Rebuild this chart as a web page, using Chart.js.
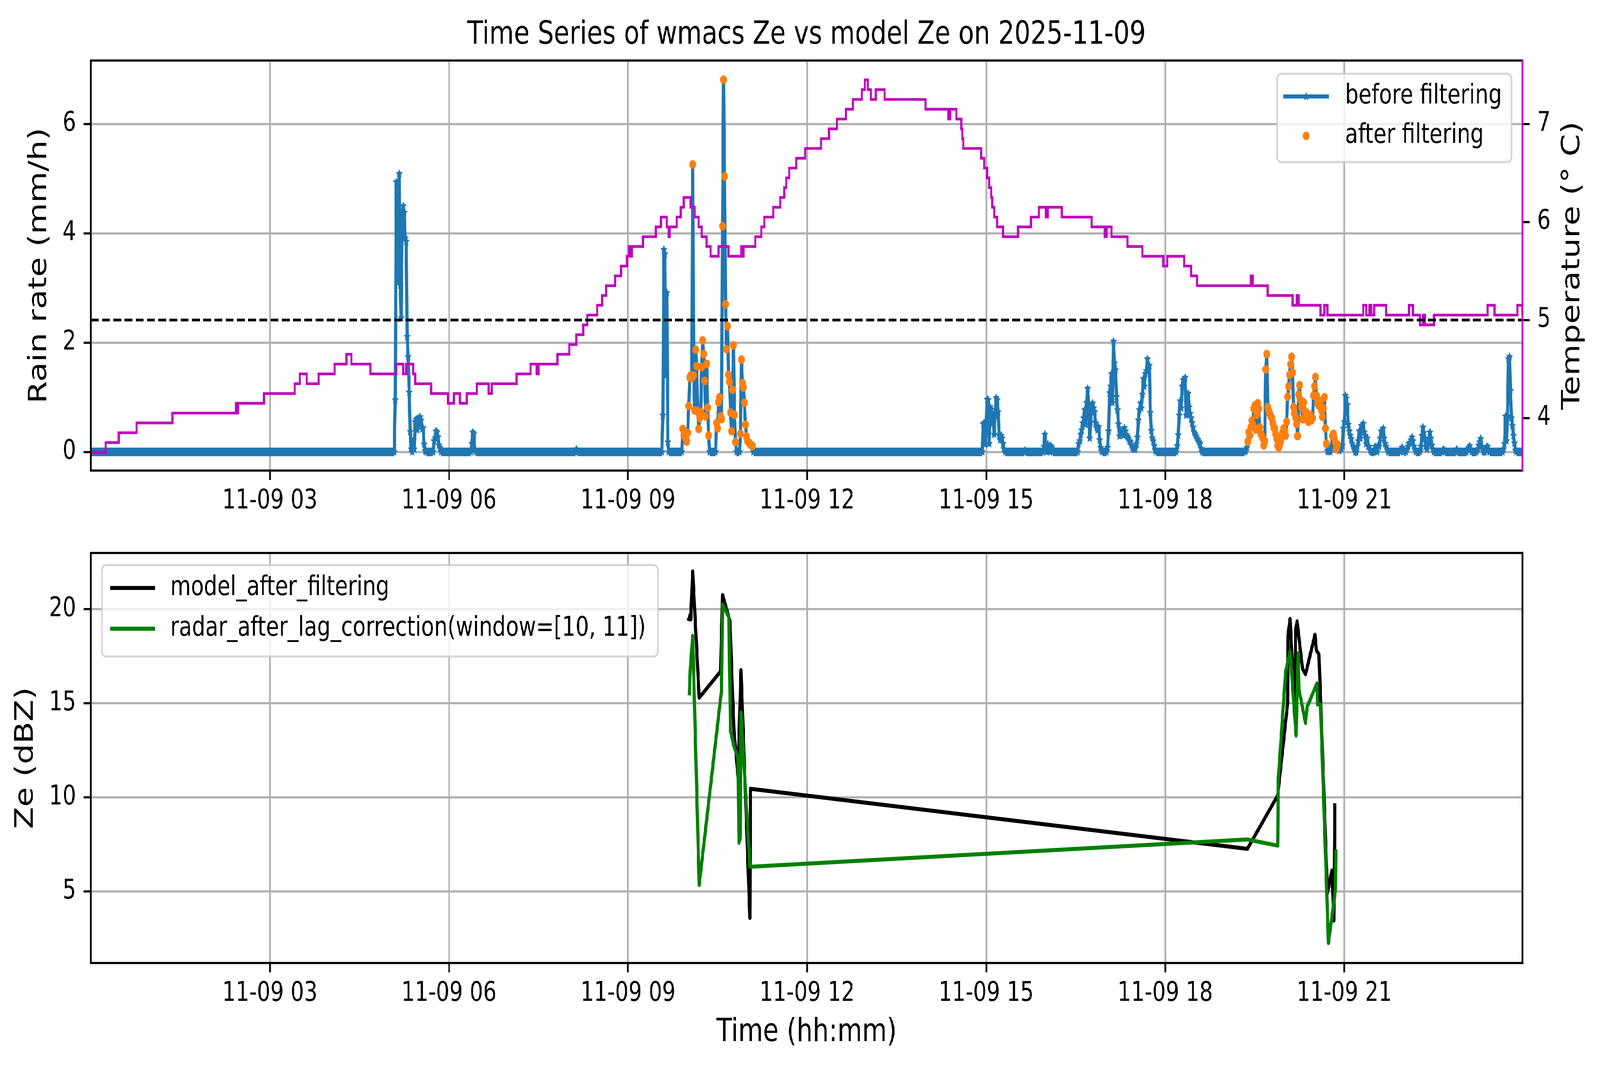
<!DOCTYPE html>
<html lang="en">
<head>
<meta charset="UTF-8">
<title>Time Series of wmacs Ze vs model Ze</title>
<script src="https://cdn.jsdelivr.net/npm/chart.js@4.4.1/dist/chart.umd.min.js"></script>
<style>
  html, body { margin: 0; padding: 0; background: #fff; overflow: hidden; }
  #viewport { position: relative; overflow: hidden; }
  #page { position: absolute; left: 0; top: 0; width: 5197px; height: 2740px; transform-origin: 0 0; }
  canvas { position: absolute; left: 0; }
  #rain { top: 0; width: 5197px; height: 1330px; }
  #ze { top: 1330px; width: 5197px; height: 1410px; }
</style>
</head>
<body>
<div id="viewport">
  <div id="page">
    <canvas id="rain" width="5197" height="1330"></canvas>
    <canvas id="ze" width="5197" height="1410"></canvas>
  </div>
</div>
<script>
// all times are minutes after 00:00 on 2025-11-09
const dayStart = 0;
const dayEnd = 1439;
const hourTicks = [180, 360, 540, 720, 900, 1080, 1260];
const rainTicks = [0, 2, 4, 6];
const tempTicks = [4, 5, 6, 7];
const zeTicks = [5, 10, 15, 20];

// rain rate (mm/h), one value per minute inside each run, starting at rainRunStart
const rainRunStart = [0, 305, 344, 382, 487, 574, 594, 628, 652, 896, 938, 957, 992, 1021, 1091, 1160,
  1316, 1322, 1336, 1358, 1372, 1383, 1393, 1419, 1439];
const rainRuns = [
  [0],
  [0, 0.95, 4.94, 4.60, 3.10, 5.09, 3.05, 2.45, 4.30, 4.50, 4.38, 3.91, 3.85, 2.11, 1.74, 1.09, 0.37, 0.05, 0,
   0.21, 0.05, 0.55, 0.60, 0.40, 0.62, 0.50, 0.64, 0.58, 0.42, 0.44, 0.14, 0.02, 0],
  [0, 0.20, 0.25, 0.38, 0.36, 0.27, 0.12, 0.08, 0],
  [0, 0.15, 0.36, 0.33, 0.04, 0],
  [0, 0.05, 0],
  [0, 0.67, 3.70, 3.62, 1.40, 2.91, 0.18, 0],
  [0, 0.42, 0.30, 0.32, 0.25, 0.19, 0.35, 0.84, 1.36, 1.40, 1.35, 5.26, 1.40, 0.76, 1.87, 1.57, 0.75, 0.42,
   0.62, 0.73, 1.55, 2.04, 1.79, 1.30, 0.65, 1.61, 0.81, 0.30, 0],
  [0, 0.53, 0.43, 0.91, 1.00, 0.65, 0.60, 4.13, 6.81, 5.04, 2.70, 1.88, 2.30, 1.41, 1.28, 0.72, 0.38, 1.14,
   1.95, 0.68, 0.18, 0],
  [0, 0.33, 1.69, 1.26, 1.18, 0.90, 0.50, 0.28, 0.20, 0.18, 0.16, 0.14, 0.12, 0.11, 0],
  [0, 0.51, 0.53, 0.14, 0.50, 0.96, 0.95, 0.15, 0.82, 0.78, 0.52, 0.68, 0.32, 0.67, 0.99, 0.95, 0.73, 0.30,
   0.22, 0.30, 0.25, 0.15, 0.05, 0],
  [0, 0.03, 0],
  [0, 0.10, 0.32, 0.05, 0, 0.14, 0.02, 0, 0.11, 0.08, 0],
  [0, 0.15, 0.20, 0.32, 0.40, 0.53, 0.62, 0.77, 0.50, 0.90, 1.16, 0.86, 0.25, 0.55, 0.86, 0.89, 0.80, 0.73,
   0.53, 0.44, 0.40, 0.46, 0.22, 0.08, 0.02, 0],
  [0, 0.08, 0.38, 1.08, 1.20, 1.43, 0.90, 2.02, 1.62, 1.50, 1.01, 0.77, 0.51, 0.29, 0.39, 0.35, 0.40, 0.30,
   0.44, 0.38, 0.31, 0.28, 0.25, 0.20, 0.18, 0.12, 0.08, 0.06, 0.04, 0.06, 0.15, 0.27, 0.58, 0.77, 0.89, 0.80,
   1.05, 1.34, 1.20, 1.43, 1.48, 1.70, 1.50, 1.58, 0.72, 0.39, 0.25, 0.20, 0.11, 0.03, 0],
  [0, 0.11, 0.31, 0.67, 0.93, 0.80, 1.20, 1.32, 1.30, 1.36, 0.67, 0.90, 1.07, 0.82, 0.70, 0.62, 0.53, 0.45,
   0.36, 0.33, 0.29, 0.25, 0.22, 0.18, 0.15, 0.06, 0],
  [0, 0.02, 0.08, 0.19, 0.36, 0.30, 0.45, 0.57, 0.50, 0.79, 0.85, 0.41, 0.68, 0.89, 0.79, 0.45, 0.33, 0.30,
   0.25, 0.12, 0.20, 1.51, 1.79, 0.82, 0.75, 0.70, 0.65, 0.63, 0.53, 0.45, 0.43, 0.33, 0.24, 0.11, 0.08, 0.13,
   0.20, 0.29, 0.36, 0.43, 0.38, 0.30, 0.55, 1.01, 1.20, 1.41, 1.60, 1.74, 1.45, 0.82, 0.70, 0.63, 0.51, 0.29,
   1.05, 1.22, 0.95, 0.82, 0.60, 0.91, 0.75, 0.60, 0.72, 0.65, 0.55, 0.60, 0.67, 0.58, 0.62, 1.03, 1.20, 1.37,
   1.03, 0.89, 0.85, 0.93, 0.93, 0.76, 0.64, 0.80, 1.00, 0.43, 0.15, 0.02, 0, 0.05, 0, 0.10, 0.29, 0.33, 0.25,
   0.18, 0.05, 0.13, 0.05, 0.02, 0.10, 0.05, 0.12, 0.43, 0.55, 1.03, 0.98, 0.86, 0.50, 0.38, 0.30, 0.24, 0.15,
   0.10, 0.05, 0, 0, 0.10, 0.20, 0.38, 0.25, 0.48, 0.40, 0.52, 0.36, 0.30, 0.15, 0.25, 0.10, 0.10, 0.03, 0, 0,
   0, 0, 0.10, 0.05, 0, 0.12, 0.10, 0.25, 0.38, 0.30, 0.43, 0.25, 0.15, 0.10, 0.05, 0],
  [0, 0.05, 0.08, 0.05, 0],
  [0, 0.05, 0.10, 0.15, 0.17, 0.22, 0.27, 0.20, 0.10, 0.05, 0],
  [0, 0.10, 0.30, 0.45, 0.35, 0.24, 0.10, 0.05, 0.15, 0.25, 0.36, 0.25, 0.12, 0.05, 0],
  [0, 0.03, 0.05, 0],
  [0, 0.05, 0],
  [0, 0.05, 0.08, 0.11, 0.05, 0],
  [0, 0.05, 0.12, 0.18, 0.24, 0.10, 0.05, 0, 0, 0.05, 0.08, 0.10, 0.03, 0],
  [0, 0.05, 0.15, 0.65, 0.20, 0.65, 1.70, 1.74, 1.12, 0.62, 0.48, 0.30, 0.16, 0.03, 0],
  [0]
];
// minutes kept by the filter
const afterWindows = [[595, 665], [1163, 1242], [1248, 1253]];

// temperature (deg C): time of each change and the new value
const tempTimes = [0, 15, 28, 46, 82, 146, 147, 148, 174, 205,
  210, 217, 229, 245, 257, 262, 281, 307, 314, 317,
  324, 326, 342, 359, 365, 371, 378, 388, 400, 403,
  428, 442, 448, 450, 469, 481, 488, 495, 499, 509,
  514, 518, 527, 533, 539, 541, 543, 544, 555, 568,
  573, 579, 581, 582, 589, 593, 596, 603, 607, 611,
  614, 619, 623, 631, 641, 654, 655, 656, 668, 674,
  677, 686, 693, 697, 699, 702, 709, 718, 734, 742,
  750, 759, 766, 775, 778, 781, 784, 789, 798, 839,
  862, 864, 870, 875, 876, 877, 895, 898, 901, 903,
  905, 906, 908, 911, 917, 932, 945, 953, 960, 962,
  976, 1006, 1019, 1021, 1026, 1042, 1057, 1078, 1082, 1099,
  1106, 1112, 1166, 1168, 1183, 1208, 1212, 1214, 1236, 1240,
  1243, 1279, 1282, 1285, 1287, 1290, 1302, 1325, 1329, 1336,
  1339, 1341, 1350, 1404, 1411, 1434, 1439];
const tempValues = [3.65, 3.75, 3.85, 3.95, 4.05, 4.15, 4.05, 4.15, 4.25, 4.35,
  4.45, 4.35, 4.45, 4.55, 4.65, 4.55, 4.45, 4.55, 4.45, 4.55,
  4.45, 4.35, 4.25, 4.15, 4.25, 4.15, 4.25, 4.35, 4.25, 4.35,
  4.45, 4.55, 4.45, 4.55, 4.65, 4.75, 4.85, 4.95, 5.05, 5.15,
  5.25, 5.35, 5.45, 5.55, 5.65, 5.75, 5.65, 5.75, 5.85, 5.95,
  6.05, 5.95, 5.85, 5.95, 6.05, 6.15, 6.25, 6.15, 6.05, 5.95,
  5.85, 5.75, 5.65, 5.75, 5.65, 5.75, 5.65, 5.75, 5.85, 5.95,
  6.05, 6.15, 6.25, 6.35, 6.45, 6.55, 6.65, 6.75, 6.85, 6.95,
  7.05, 7.15, 7.25, 7.35, 7.45, 7.35, 7.25, 7.35, 7.25, 7.15,
  7.05, 7.15, 7.05, 6.95, 6.85, 6.75, 6.65, 6.55, 6.45, 6.35,
  6.25, 6.15, 6.05, 5.95, 5.85, 5.95, 6.05, 6.15, 6.05, 6.15,
  6.05, 5.95, 5.85, 5.95, 5.85, 5.75, 5.65, 5.55, 5.65, 5.55,
  5.45, 5.35, 5.45, 5.35, 5.25, 5.15, 5.25, 5.15, 5.05, 5.15,
  5.05, 5.15, 5.05, 5.15, 5.05, 5.15, 5.05, 5.15, 5.05, 4.95,
  5.05, 4.95, 5.05, 5.15, 5.05, 5.15, 5.05];
const tempThreshold = 5;

// reflectivity (dBZ)
const modelTimes = [600.5, 602.5, 603, 605, 611.5, 633, 635, 642.5, 645, 646.5,
  650.5, 653.5, 662.5, 663, 1162.5, 1193, 1203, 1203.3, 1205.5, 1210.5,
  1211, 1212.5, 1218, 1221, 1230.5, 1232, 1234.5, 1243, 1247.5, 1249.5, 1250.5];
const modelZe = [19.37, 19.70, 19.45, 22.0, 15.29, 16.69, 20.75, 19.35, 15.49, 13.54,
  11.16, 16.76, 3.60, 10.46, 7.27, 10.10, 15.0, 18.58, 19.48, 14.24,
  18.86, 19.35, 16.83, 16.54, 18.64, 17.80, 17.60, 4.93, 6.12, 3.46, 9.69];
const radarTimes = [601.5, 602.5, 605, 611.5, 634, 635, 641.5, 642, 643, 646.5,
  650.5, 651.5, 653, 653.5, 662.5, 1162.5, 1193, 1193.5, 1201, 1205.5,
  1211.5, 1213.5, 1214.5, 1221, 1222.5, 1232.5, 1233, 1236, 1244, 1251, 1251.5];
const radarZe = [15.42, 16.76, 18.58, 5.35, 15.71, 20.25, 19.55, 16.9, 13.54, 12.70,
  12.13, 7.59, 7.9, 14.51, 6.32, 7.77, 7.44, 10.88, 16.69, 17.74,
  13.28, 17.66, 15.71, 13.95, 14.79, 16.06, 14.94, 14.94, 2.27, 5.07, 7.24];

// ---- the drawing is laid out on a 5197x2740 sheet, stretched to fill the window
const DESIGN_W = 5197, DESIGN_H = 2740;
const vw = window.innerWidth || DESIGN_W, vh = window.innerHeight || DESIGN_H;
const sx = vw / DESIGN_W, sy = vh / DESIGN_H;
const viewport = document.getElementById('viewport');
viewport.style.width = vw + 'px';
viewport.style.height = vh + 'px';
document.getElementById('page').style.transform = 'scale(' + sx + ',' + sy + ')';
const RATIO = Math.max(1, Math.max(sx, sy) * (window.devicePixelRatio || 1));

// ---- build the point lists
const rainPoints = [];
rainRunStart.forEach((start, r) => {
  rainRuns[r].forEach((v, i) => rainPoints.push({ x: start + i, y: v }));
});
const afterPoints = rainPoints.filter(p =>
  p.y > 0 && afterWindows.some(w => p.x >= w[0] && p.x <= w[1]));
const tempPoints = tempTimes.map((t, i) => ({ x: t, y: tempValues[i] }));
const thresholdPoints = [{ x: dayStart, y: tempThreshold }, { x: dayEnd, y: tempThreshold }];
const modelPoints = modelTimes.map((t, i) => ({ x: t, y: modelZe[i] }));
const radarPoints = radarTimes.map((t, i) => ({ x: t, y: radarZe[i] }));

// ---- look
const FAMILY = 'DejaVu Sans';
const tickFont = { family: FAMILY, size: 68.75 };
const labelFont = { family: FAMILY, size: 82.5 };
const LW_AXIS = 5.5;
const gridOpts = { color: '#b0b0b0', lineWidth: LW_AXIS, drawTicks: true, tickLength: 24,
  tickColor: '#000', tickWidth: LW_AXIS };

// filled five point star like matplotlib's '*'
function starMarker(r, color) {
  const c = document.createElement('canvas');
  const s = Math.ceil(r * 2 + 2);
  c.width = s; c.height = s;
  const g = c.getContext('2d');
  g.fillStyle = color;
  g.beginPath();
  for (let i = 0; i < 10; i++) {
    const rad = i % 2 ? r * 0.5 : r;
    const a = -Math.PI / 2 + i * Math.PI / 5;
    g.lineTo(s / 2 + rad * Math.cos(a), s / 2 + rad * Math.sin(a));
  }
  g.closePath();
  g.fill();
  return c;
}
const blueStar = starMarker(12, '#1f77b4');

// axes box drawn over the data, like the spines
const frame = {
  id: 'frame',
  afterDatasetsDraw(chart, args, opts) {
    const { ctx, chartArea: a } = chart;
    ctx.save();
    ctx.lineWidth = LW_AXIS;
    ctx.lineCap = 'square';
    ctx.strokeStyle = '#000';
    ctx.beginPath();
    ctx.moveTo(a.left, a.bottom); ctx.lineTo(a.left, a.top); ctx.lineTo(a.right, a.top);
    ctx.moveTo(a.left, a.bottom); ctx.lineTo(a.right, a.bottom);
    ctx.stroke();
    ctx.strokeStyle = opts.right || '#000';
    ctx.beginPath();
    ctx.moveTo(a.right, a.top); ctx.lineTo(a.right, a.bottom);
    ctx.stroke();
    ctx.restore();
  }
};

// figure title and the right hand axis label (reads bottom to top)
const textLabels = {
  id: 'textLabels',
  afterDraw(chart, args, opts) {
    const { ctx, chartArea: a } = chart;
    ctx.save();
    ctx.fillStyle = '#000';
    ctx.font = labelFont.size + 'px "' + FAMILY + '"';
    ctx.textAlign = 'center';
    ctx.textBaseline = 'alphabetic';
    if (opts.title) ctx.fillText(opts.title, (a.left + a.right) / 2, opts.titleBaseline);
    if (opts.rightTitle) {
      ctx.translate(opts.rightBaseline, (a.top + a.bottom) / 2);
      ctx.rotate(-Math.PI / 2);
      ctx.fillText(opts.rightTitle, 0, 0);
    }
    ctx.restore();
  }
};

// matplotlib style legend box
const boxLegend = {
  id: 'boxLegend',
  afterDraw(chart, args, opts) {
    const ctx = chart.ctx;
    const b = opts.box;
    ctx.save();
    ctx.beginPath();
    ctx.roundRect(b[0], b[1], b[2] - b[0], b[3] - b[1], 14);
    ctx.fillStyle = 'rgba(255,255,255,0.8)';
    ctx.fill();
    ctx.lineWidth = LW_AXIS;
    ctx.strokeStyle = 'rgba(204,204,204,0.8)';
    ctx.stroke();
    const h0 = opts.handle[0], h1 = opts.handle[1], hm = (h0 + h1) / 2;
    ctx.font = tickFont.size + 'px "' + FAMILY + '"';
    ctx.textAlign = 'left';
    ctx.textBaseline = 'middle';
    opts.rows.forEach(row => {
      const ds = chart.data.datasets[row.index];
      if (ds.showLine !== false) {
        ctx.strokeStyle = ds.borderColor;
        ctx.lineWidth = ds.borderWidth;
        ctx.beginPath();
        ctx.moveTo(h0, row.y); ctx.lineTo(h1, row.y);
        ctx.stroke();
      }
      if (ds.pointStyle instanceof HTMLCanvasElement) {
        const img = ds.pointStyle;
        ctx.drawImage(img, hm - img.width / 2, row.y - img.height / 2);
      } else if (ds.pointRadius > 0) {
        ctx.fillStyle = ds.pointBackgroundColor;
        ctx.beginPath();
        ctx.arc(hm, row.y, ds.pointRadius, 0, Math.PI * 2);
        ctx.fill();
      }
      ctx.fillStyle = '#000';
      ctx.fillText(ds.label, opts.textX, row.y);
    });
    ctx.restore();
  }
};

function timeAxis(h, title) {
  return {
    type: 'linear', position: 'bottom', min: dayStart, max: dayEnd,
    afterBuildTicks: ax => { ax.ticks = hourTicks.map(v => ({ value: v })); },
    afterFit: ax => { ax.height = h; },
    ticks: { color: '#000', font: tickFont, padding: 14, maxRotation: 0, autoSkip: false,
      callback: v => '11-09 ' + String(Math.round(v / 60)).padStart(2, '0') },
    grid: gridOpts,
    border: { display: false },
    title: title
      ? { display: true, text: title, color: '#000', font: labelFont, padding: { top: 0, bottom: 45.5 } }
      : { display: false }
  };
}

function valueAxis(pos, min, max, list, w, extra) {
  return Object.assign({
    type: 'linear', position: pos, min: min, max: max,
    afterBuildTicks: ax => { ax.ticks = list.map(v => ({ value: v })); },
    afterFit: ax => { ax.width = w; },
    ticks: { color: '#000', font: tickFont, padding: 24, callback: v => String(v) },
    grid: gridOpts,
    border: { display: false }
  }, extra);
}

Chart.defaults.font.family = FAMILY;

new Chart(document.getElementById('rain'), {
  type: 'line',
  data: {
    datasets: [
      { label: 'before filtering', data: rainPoints, yAxisID: 'y',
        borderColor: '#1f77b4', borderWidth: 10.3, borderJoinStyle: 'round',
        pointStyle: blueStar, pointRadius: 12, pointHoverRadius: 12,
        segment: { borderWidth: c => (c.p0.parsed.y === 0 && c.p1.parsed.y === 0) ? 22 : undefined },
        order: 3, clip: 0 },
      { label: 'after filtering', data: afterPoints, yAxisID: 'y', showLine: false,
        pointStyle: 'circle', pointRadius: 11, pointHoverRadius: 11,
        pointBackgroundColor: '#ff7f0e', pointBorderWidth: 0, order: 2, clip: 0 },
      { label: 'temperature', data: tempPoints, yAxisID: 'yT', stepped: true,
        borderColor: '#bf00bf', borderWidth: 6.9, pointRadius: 0, order: 1, clip: 0 },
      { label: 'threshold', data: thresholdPoints, yAxisID: 'yT',
        borderColor: '#000', borderWidth: 6.9, borderDash: [25.5, 11], pointRadius: 0, order: 0, clip: 0 }
    ]
  },
  options: {
    responsive: false, devicePixelRatio: RATIO, animation: false, events: [],
    layout: { padding: { top: 155, left: 0, right: 0, bottom: 0 } },
    scales: {
      x: timeAxis(125, null),
      y: valueAxis('left', -0.341, 7.161, rainTicks, 295, {
        title: { display: true, text: 'Rain rate (mm/h)', color: '#000', font: labelFont,
          padding: { top: 79.5, bottom: 0 } }
      }),
      yT: valueAxis('right', 3.464, 7.647, tempTicks, 252, {
        grid: Object.assign({}, gridOpts, { drawOnChartArea: false })
      })
    },
    plugins: {
      legend: { display: false },
      tooltip: { enabled: false },
      frame: { right: '#bf00bf' },
      textLabels: { title: 'Time Series of wmacs Ze vs model Ze on 2025-11-09', titleBaseline: 112,
        rightTitle: 'Temperature (° C)', rightBaseline: 5130 },
      boxLegend: { box: [4148, 189, 4910, 415], handle: [4168, 4317], textX: 4369,
        rows: [{ index: 0, y: 247 }, { index: 1, y: 348 }] }
    }
  },
  plugins: [frame, textLabels, boxLegend]
});

new Chart(document.getElementById('ze'), {
  type: 'line',
  data: {
    datasets: [
      { label: 'model_after_filtering', data: modelPoints, borderColor: '#000', borderWidth: 10.3,
        borderJoinStyle: 'round', pointRadius: 0, order: 1, clip: 0 },
      { label: 'radar_after_lag_correction(window=[10, 11])', data: radarPoints, borderColor: '#008000',
        borderWidth: 10.3, borderJoinStyle: 'round', pointRadius: 0, order: 0, clip: 0 }
    ]
  },
  options: {
    responsive: false, devicePixelRatio: RATIO, animation: false, events: [],
    layout: { padding: { top: 86, left: 0, right: 252, bottom: 0 } },
    scales: {
      x: timeAxis(274, 'Time (hh:mm)'),
      y: valueAxis('left', 1.21, 22.98, zeTicks, 295, {
        title: { display: true, text: 'Ze (dBZ)', color: '#000', font: labelFont,
          padding: { top: 35, bottom: 0 } }
      })
    },
    plugins: {
      legend: { display: false },
      tooltip: { enabled: false },
      frame: { right: '#000' },
      boxLegend: { box: [331, 117, 2137, 351], handle: [358, 504], textX: 553,
        rows: [{ index: 0, y: 175.7 }, { index: 1, y: 280 }] }
    }
  },
  plugins: [frame, boxLegend]
});
</script>
</body>
</html>
